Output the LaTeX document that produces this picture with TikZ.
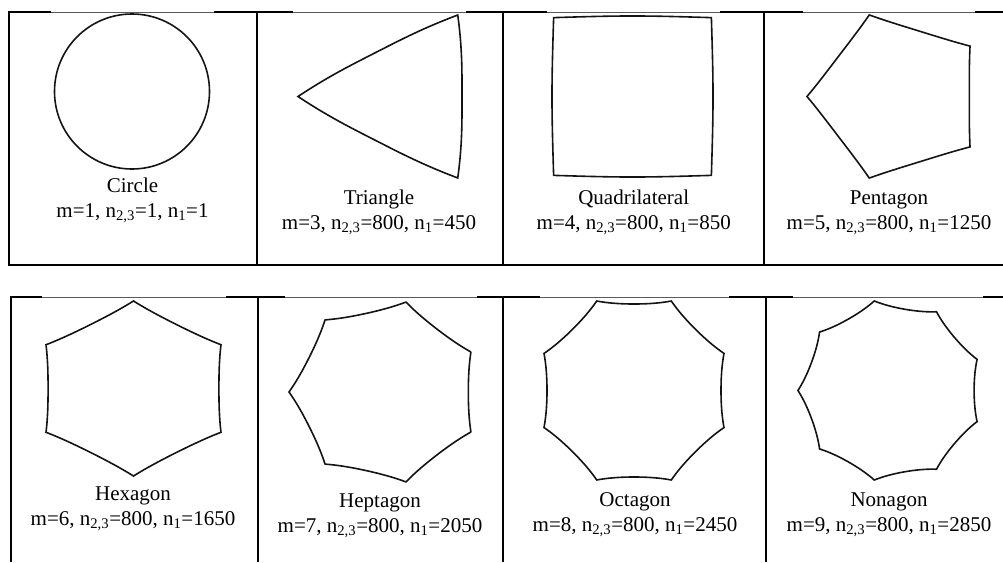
\documentclass[tikz,border=0pt]{standalone}
\usepackage{fontspec}
\setmainfont{Liberation Serif}
\usepackage{tikz}
\usetikzlibrary{
  arrows.meta,
  positioning,
  calc
}
\definecolor{rulecolor}{RGB}{0, 0, 0}
\definecolor{thinrulecolor}{RGB}{90, 90, 90}
\definecolor{shapecolor}{RGB}{20, 20, 20}
\definecolor{labelcolor}{RGB}{0, 0, 0}
\tikzset{
celllabel/.style={
  align=center,
  anchor=base,
  inner sep=0pt,
  font=\fontsize{21}{24.5}\selectfont,
  text=labelcolor
},
thickrule/.style={
  draw=rulecolor,
  line width=2.6pt
},
cellrule/.style={
  draw=rulecolor,
  line width=2pt
},
thinrule/.style={
  draw=thinrulecolor,
  line width=1pt
},
shapeline/.style={
  draw=shapecolor,
  line width=1.6pt,
  line join=miter
}
}
% superformula outline: centre x, centre y, xscale, yscale, m, n23/n1
\newcommand{\supershape}[6]{%
  \draw[shapeline, shift={(#1,#2)}, xscale=#3, yscale=#4]
    plot[domain=0:360, samples=721]
    (\x:{pow(max(abs(cos(#5*\x/4)),abs(sin(#5*\x/4))),-#6)}) -- cycle;
}

\begin{document}
\begin{tikzpicture}[x=1pt, y=-1pt]
        \useasboundingbox (0,0) rectangle (1003,562);
        % upper table
        \foreach \a/\b in {9/51, 214/293, 466/547, 720/803, 975/1003}
          \draw[thickrule] (\a,12) -- (\b,12);
        \foreach \a/\b in {51/214, 293/466, 547/720, 803/975}
          \draw[thinrule] (\a,12) -- (\b,12);
        \draw[thickrule] (8,265) -- (1003,265);
        \foreach \xx in {9, 257, 503, 764}
          \draw[cellrule] (\xx,11) -- (\xx,266);
        % lower table
        \foreach \a/\b in {11/42, 226/285, 477/540, 729/793, 983/1003}
          \draw[thickrule] (\a,297) -- (\b,297);
        \foreach \a/\b in {42/226, 285/477, 540/729, 793/983}
          \draw[thinrule] (\a,297) -- (\b,297);
        \foreach \xx in {11, 258, 503, 766}
          \draw[cellrule] (\xx,296) -- (\xx,562);
        % shapes
        \draw[shapeline] (132,91.5) circle[radius=77.5];
        \supershape{404.5}{96.5}{57.5}{50.8}{3}{1.778}
        \supershape{632.5}{96.5}{80.5}{80.5}{4}{0.941}
        \supershape{897.1}{96.5}{72.2}{68.7}{5}{0.64}
        \supershape{133.5}{388.5}{85.4}{74}{6}{0.485}
        \supershape{384.7}{392}{83.6}{80.6}{7}{0.390}
        \supershape{634}{390.5}{87}{86.5}{8}{0.3265}
        \supershape{890.3}{390.5}{83.8}{82.5}{9}{0.2807}
        % labels (anchored on the second line)
        \node[celllabel] (lblcircle) at (132.5,217) {Circle\\m=1, n\textsubscript{2,3}=1, n\textsubscript{1}=1};
        \node[celllabel] (lbltriangle) at (379,229) {Triangle\\m=3, n\textsubscript{2,3}=800, n\textsubscript{1}=450};
        \node[celllabel] (lblquad) at (633.7,229) {Quadrilateral\\m=4, n\textsubscript{2,3}=800, n\textsubscript{1}=850};
        \node[celllabel] (lblpenta) at (889,229) {Pentagon\\m=5, n\textsubscript{2,3}=800, n\textsubscript{1}=1250};
        \node[celllabel] (lblhexa) at (133,525) {Hexagon\\m=6, n\textsubscript{2,3}=800, n\textsubscript{1}=1650};
        \node[celllabel] (lblhepta) at (380,532) {Heptagon\\m=7, n\textsubscript{2,3}=800, n\textsubscript{1}=2050};
        \node[celllabel] (lblocta) at (635,531) {Octagon\\m=8, n\textsubscript{2,3}=800, n\textsubscript{1}=2450};
        \node[celllabel] (lblnona) at (889,531) {Nonagon\\m=9, n\textsubscript{2,3}=800, n\textsubscript{1}=2850};
      \end{tikzpicture}
\end{document}
